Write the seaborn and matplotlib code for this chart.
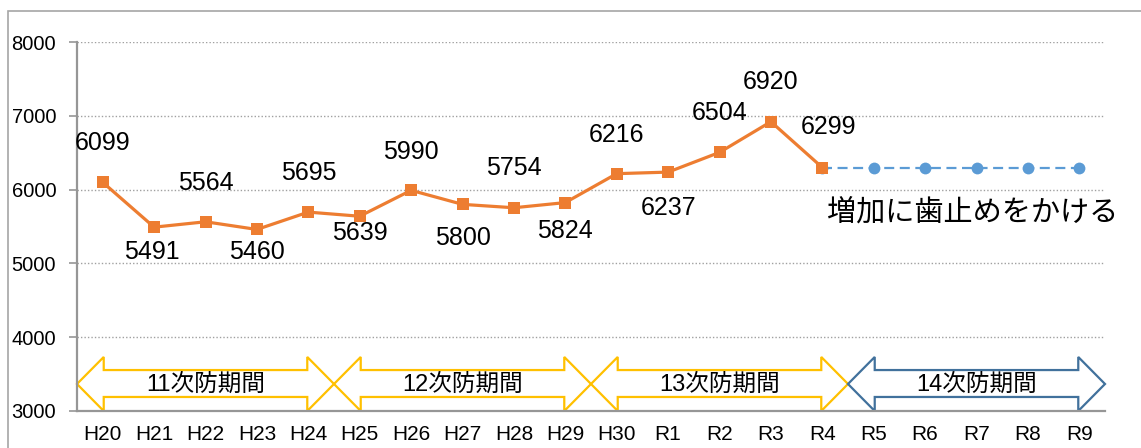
import matplotlib
matplotlib.use("Agg")
import matplotlib.pyplot as plt
from matplotlib.patches import Polygon, Rectangle
import seaborn as sns
import pandas as pd
import numpy as np

# ---- data ----
categories = ["H20", "H21", "H22", "H23", "H24", "H25", "H26", "H27", "H28", "H29",
              "H30", "R1", "R2", "R3", "R4", "R5", "R6", "R7", "R8", "R9"]
actual_values = [6099, 5491, 5564, 5460, 5695, 5639, 5990, 5800, 5754, 5824,
                 6216, 6237, 6504, 6920, 6299]
target_categories = ["R4", "R5", "R6", "R7", "R8", "R9"]
target_values = [6299, 6299, 6299, 6299, 6299, 6299]
period_names = ["11次防期間", "12次防期間", "13次防期間", "14次防期間"]
period_start = ["H20", "H25", "H30", "R5"]
period_end = ["H24", "H29", "R4", "R9"]
annotation_text = "増加に歯止めをかける"
y_ticks = [3000, 4000, 5000, 6000, 7000, 8000]

# label placement (pixel offsets of label centre from point)
label_offsets = [(0, 39), (-2, -25), (0, 39), (0, -23), (0, 39), (0, -17), (0, 38),
                 (0, -34), (0, 40), (0, -28), (0, 39), (0, -36), (0, 39), (0, 40), (6, 41)]

sns.set_theme(style="white")
plt.rcParams['font.family'] = ['Liberation Sans', 'Noto Sans CJK JP', 'DejaVu Sans']

W, H = 1141, 448
fig = plt.figure(figsize=(W / 100, H / 100), dpi=100)
ax = fig.add_axes([77 / W, 1 - 411 / H, (1105 - 77) / W, (411 - 42) / H])

pos = {c: i for i, c in enumerate(categories)}
df_act = pd.DataFrame({"x": [pos[c] for c in categories[:len(actual_values)]], "y": actual_values})
df_tgt = pd.DataFrame({"x": [pos[c] for c in target_categories], "y": target_values})

orange = "#ED7D31"
blue = "#5B9BD5"
sns.lineplot(data=df_tgt, x="x", y="y", ax=ax, color=blue, lw=1.6, linestyle=(0, (4.5, 2.5)),
             marker="o", markersize=8.5, markeredgewidth=0, zorder=3)
sns.lineplot(data=df_act, x="x", y="y", ax=ax, color=orange, lw=2.3,
             marker="s", markersize=8.5, markeredgewidth=0, zorder=4)

for (xv, yv), (dx, dy) in zip(df_act.values, label_offsets):
    ax.annotate(f"{int(yv)}", (xv, yv), xytext=(dx, dy), textcoords="offset pixels",
                ha="center", va="center", fontsize=18, color="#000000", zorder=5)

ax.set_xlim(-0.5, len(categories) - 0.5)
ax.set_ylim(3000, 8000)
ax.set_yticks(y_ticks)
ax.set_yticklabels([str(v) for v in y_ticks], fontsize=14.5, color="#000000")
ax.set_xticks(range(len(categories)))
ax.set_xticklabels(categories, fontsize=15, color="#000000")
ax.set_xticks(np.arange(-0.5, len(categories), 1), minor=True)
ax.tick_params(axis="x", which="major", length=0, pad=10)
ax.tick_params(axis="x", which="minor", length=6, width=1.2, color="#969696", direction="out")
ax.tick_params(axis="y", which="major", length=6, width=1.2, color="#969696", direction="out", pad=9, left=True)
ax.set_xlabel("")
ax.set_ylabel("")

for yv in y_ticks[1:]:
    ax.axhline(yv, color="#A0A0A0", lw=1.0, linestyle=(0, (1, 1.5)), zorder=0)

for s in ["top", "right"]:
    ax.spines[s].set_visible(False)
for s in ["left", "bottom"]:
    ax.spines[s].set_color("#969696")
    ax.spines[s].set_linewidth(1.6)
ax.spines["bottom"].set_zorder(6)

# period arrows
head_len = 0.52
y_lo, y_hi = 3000, 3732
y_mid = (y_lo + y_hi) / 2
s_lo, s_hi = 3190, 3555
for name, st, en, col in zip(period_names, period_start, period_end,
                             ["#FFC000", "#FFC000", "#FFC000", "#41719C"]):
    xa, xb = pos[st] - 0.5, pos[en] + 0.5
    pts = [(xa, y_mid), (xa + head_len, y_hi), (xa + head_len, s_hi), (xb - head_len, s_hi),
           (xb - head_len, y_hi), (xb, y_mid), (xb - head_len, y_lo), (xb - head_len, s_lo),
           (xa + head_len, s_lo), (xa + head_len, y_lo)]
    ax.add_patch(Polygon(pts, closed=True, facecolor="none", edgecolor=col, lw=1.6,
                         zorder=2, clip_on=False, joinstyle="miter"))
    ax.text((xa + xb) / 2, y_mid - 10, name, ha="center", va="center", fontsize=17,
            color="#000000", zorder=3)

ax.text(14.1, 5683, annotation_text, ha="left", va="center", fontsize=21, color="#000000")

# outer chart border (top and left visible)
fig.patches.append(Rectangle((8 / W, -0.1), 1.2, 1 - 11 / H + 0.1, transform=fig.transFigure,
                             facecolor="none", edgecolor="#A6A6A6", lw=1.2, zorder=0))

fig.savefig("out.png", dpi=100)
